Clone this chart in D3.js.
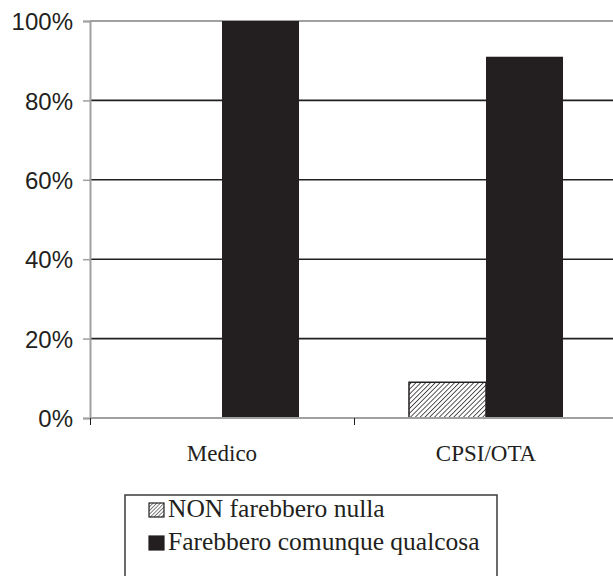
<!DOCTYPE html>
<html><head><meta charset="utf-8">
<script src="https://cdn.jsdelivr.net/npm/d3@7"></script>
<style>body{margin:0;background:#fff}svg{display:block}
.serif{font-family:"Liberation Serif","Times New Roman",serif}
.sans{font-family:"Liberation Sans",Arial,sans-serif}</style>
</head><body>
<svg id="c" width="613" height="576"></svg>
<script>
const categories = ["Medico", "CPSI/OTA"];
const seriesNames = ["NON farebbero nulla", "Farebbero comunque qualcosa"];
const nonValues = [0, 0.09];
const farebberoValues = [1.0, 0.91];
const yTicks = [0, 0.2, 0.4, 0.6, 0.8, 1.0];
const yTickLabels = ["0%", "20%", "40%", "60%", "80%", "100%"];

const svg = d3.select("#c");
const defs = svg.append("defs");
function hatch(id, w, sw){
  const p = defs.append("pattern").attr("id",id).attr("patternUnits","userSpaceOnUse")
    .attr("width",w).attr("height",w).attr("patternTransform","rotate(45)");
  p.append("rect").attr("width",w).attr("height",w).attr("fill","#fff");
  p.append("line").attr("x1",0).attr("y1",0).attr("x2",0).attr("y2",w).attr("stroke","#231f20").attr("stroke-width",sw);
}
hatch("hatch", 3.4, 1.5);
hatch("hatchS", 2.6, 1.1);

const plotLeft = 90, plotRight = 618, plotTop = 21, plotBottom = 418;
const y = d3.scaleLinear().domain([0,1]).range([plotBottom, plotTop]);
const x0 = d3.scaleBand().domain(categories).range([plotLeft, plotRight]).paddingInner(0).paddingOuter(0);
const x1 = d3.scaleBand().domain(seriesNames).range([0, x0.bandwidth()]).paddingInner(0).paddingOuter(0.714);
const fills = {"NON farebbero nulla":"url(#hatch)", "Farebbero comunque qualcosa":"#231f20"};
const legendFills = {"NON farebbero nulla":"url(#hatchS)", "Farebbero comunque qualcosa":"#231f20"};

// gridlines
svg.append("g").selectAll("line").data(yTicks.filter(t=>t>0 && t<1)).join("line")
  .attr("x1",plotLeft).attr("x2",613).attr("y1",d=>y(d)).attr("y2",d=>y(d))
  .attr("stroke","#231f20").attr("stroke-width",1.6);
// top border
svg.append("line").attr("x1",plotLeft).attr("x2",613).attr("y1",y(1)).attr("y2",y(1))
  .attr("stroke","#a0a0a0").attr("stroke-width",2);

// bars
const data = [];
categories.forEach((c,i)=>{
  data.push({cat:c, s:seriesNames[0], v:nonValues[i]});
  data.push({cat:c, s:seriesNames[1], v:farebberoValues[i]});
});
svg.append("g").selectAll("rect").data(data.filter(d=>d.v>0)).join("rect")
  .attr("x",d=>x0(d.cat)+x1(d.s))
  .attr("width",x1.bandwidth())
  .attr("y",d=>y(d.v))
  .attr("height",d=>y(0)-y(d.v))
  .attr("fill",d=>fills[d.s])
  .attr("stroke",d=>d.s===seriesNames[0]?"#231f20":"none")
  .attr("stroke-width",1.5);

// y axis
const yAxis = d3.axisLeft(y).tickValues(yTicks).tickFormat((d,i)=>yTickLabels[i]).tickSize(7).tickPadding(10);
const gy = svg.append("g").attr("transform",`translate(${plotLeft},0)`).call(yAxis);
gy.attr("font-family",null);
gy.select(".domain").attr("stroke","#a0a0a0").attr("stroke-width",2);
gy.selectAll(".tick line").attr("stroke","#a0a0a0").attr("stroke-width",1.5);
gy.selectAll(".tick text").attr("class","sans").attr("font-size",24)
  .attr("fill","#231f20").attr("dy","0.36em");

// x axis
svg.append("line").attr("x1",plotLeft).attr("x2",613).attr("y1",plotBottom).attr("y2",plotBottom)
  .attr("stroke","#a0a0a0").attr("stroke-width",2);
svg.append("g").selectAll("line").data(categories).join("line")
  .attr("x1",d=>x0(d)+0.5).attr("x2",d=>x0(d)+0.5).attr("y1",plotBottom).attr("y2",plotBottom+7)
  .attr("stroke","#231f20").attr("stroke-width",1);
svg.append("g").selectAll("text").data(categories).join("text")
  .attr("class","serif")
  .attr("x",d=>x0(d)+x0.bandwidth()/2).attr("y",461)
  .attr("text-anchor","middle")
  .attr("font-size",23).attr("fill","#231f20").text(d=>d);

// legend
const lg = svg.append("g");
lg.append("rect").attr("x",125).attr("y",495).attr("width",372).attr("height",100)
  .attr("fill","#fff").attr("stroke","#3a3a3a").attr("stroke-width",1.5);
const items = lg.selectAll("g.item").data(seriesNames).join("g").attr("class","item")
  .attr("transform",(d,i)=>`translate(149,${503+i*33})`);
items.append("rect").attr("width",15).attr("height",14)
  .attr("fill",d=>legendFills[d]).attr("stroke","#231f20").attr("stroke-width",1.2);
items.append("text").attr("class","serif").attr("x",19).attr("y",14)
  .attr("font-size",25.5).attr("fill","#231f20").text(d=>d);
</script>
</body></html>
